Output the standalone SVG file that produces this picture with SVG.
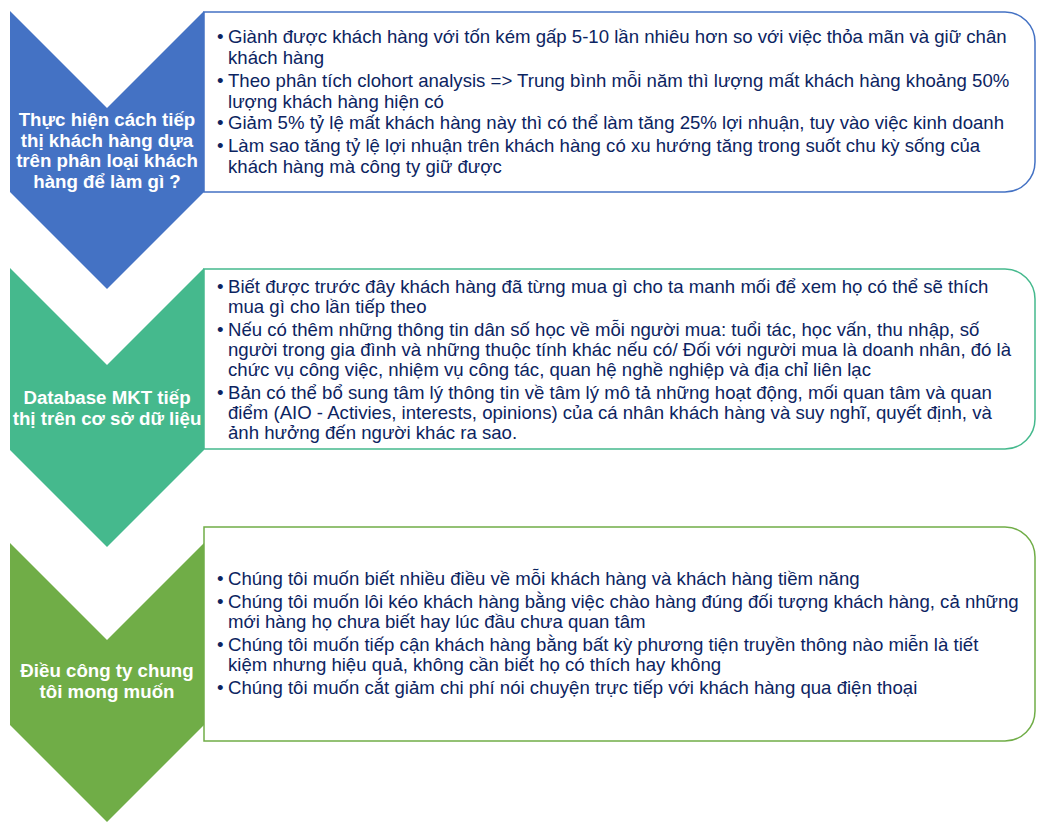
<svg xmlns="http://www.w3.org/2000/svg" width="1044" height="831" viewBox="0 0 1044 831">
<style>
.t{font-family:"Liberation Sans",Arial,sans-serif;font-size:18.6px;fill:#0C2461}
.h{font-family:"Liberation Sans",Arial,sans-serif;font-size:18.7px;font-weight:bold;fill:#FFFFFF;text-anchor:middle}
.box{fill:#FFFFFF;stroke-width:1.5}
</style>
<rect width="1044" height="831" fill="#FFFFFF"/>
<g id="connectors"></g>
<g id="box1">
<path class="box" stroke="#4472C4" d="M204,12 H1005 A30,30 0 0 1 1035,42 V162 A30,30 0 0 1 1005,192 H204 Z"/>
<text class="t"><tspan x="217" y="43">•</tspan><tspan x="228" y="43">Giành được khách hàng với tốn kém gấp 5-10 lần nhiêu hơn so với việc thỏa mãn và giữ chân</tspan><tspan x="228" y="63.5">khách hàng</tspan></text>
<text class="t"><tspan x="217" y="87">•</tspan><tspan x="228" y="87">Theo phân tích clohort analysis =&gt; Trung bình mỗi năm thì lượng mất khách hàng khoảng 50%</tspan><tspan x="228" y="107.5">lượng khách hàng hiện có</tspan></text>
<text class="t"><tspan x="217" y="129">•</tspan><tspan x="228" y="129">Giảm 5% tỷ lệ mất khách hàng này thì có thể làm tăng 25% lợi nhuận, tuy vào việc kinh doanh</tspan></text>
<text class="t"><tspan x="217" y="152">•</tspan><tspan x="228" y="152">Làm sao tăng tỷ lệ lợi nhuận trên khách hàng có xu hướng tăng trong suốt chu kỳ sống của</tspan><tspan x="228" y="172.5">khách hàng mà công ty giữ được</tspan></text>
</g>
<g id="chevron1">
<polygon fill="#4472C4" points="10,11 107,108 204,11 204,192 107,289 10,192"/>
<text class="h"><tspan x="107" y="126">Thực hiện cách tiếp</tspan><tspan x="107" y="146.5">thị khách hàng dựa</tspan><tspan x="107" y="167">trên phân loại khách</tspan><tspan x="107" y="187.5">hàng để làm gì ?</tspan></text>
</g>
<g id="box2">
<path class="box" stroke="#45B98D" d="M204,269 H1005 A30,30 0 0 1 1035,299 V419 A30,30 0 0 1 1005,449 H204 Z"/>
<text class="t"><tspan x="217" y="293">•</tspan><tspan x="228" y="293">Biết được trước đây khách hàng đã từng mua gì cho ta manh mối để xem họ có thể sẽ thích</tspan><tspan x="228" y="313">mua gì cho lần tiếp theo</tspan></text>
<text class="t"><tspan x="217" y="336">•</tspan><tspan x="228" y="336">Nếu có thêm những thông tin dân số học về mỗi người mua: tuổi tác, học vấn, thu nhập, số</tspan><tspan x="228" y="356">người trong gia đình và những thuộc tính khác nếu có/ Đối với người mua là doanh nhân, đó là</tspan><tspan x="228" y="376">chức vụ công việc, nhiệm vụ công tác, quan hệ nghề nghiệp và địa chỉ liên lạc</tspan></text>
<text class="t"><tspan x="217" y="399">•</tspan><tspan x="228" y="399">Bản có thể bổ sung tâm lý thông tin về tâm lý mô tả những hoạt động, mối quan tâm và quan</tspan><tspan x="228" y="419">điểm (AIO - Activies, interests, opinions) của cá nhân khách hàng và suy nghĩ, quyết định, và</tspan><tspan x="228" y="439">ảnh hưởng đến người khác ra sao.</tspan></text>
</g>
<g id="chevron2">
<polygon fill="#45B98D" points="10,268 107,365 204,268 204,450 107,547 10,450"/>
<text class="h"><tspan x="107" y="404">Database MKT tiếp</tspan><tspan x="107" y="424.5">thị trên cơ sở dữ liệu</tspan></text>
</g>
<g id="box3">
<path class="box" stroke="#70AD47" d="M204,527 H1005 A30,30 0 0 1 1035,557 V711 A30,30 0 0 1 1005,741 H204 Z"/>
<text class="t"><tspan x="217" y="585">•</tspan><tspan x="228" y="585">Chúng tôi muốn biết nhiều điều về mỗi khách hàng và khách hàng tiềm năng</tspan></text>
<text class="t"><tspan x="217" y="608">•</tspan><tspan x="228" y="608">Chúng tôi muốn lôi kéo khách hàng bằng việc chào hàng đúng đối tượng khách hàng, cả những</tspan><tspan x="228" y="628">mới hàng họ chưa biết hay lúc đầu chưa quan tâm</tspan></text>
<text class="t"><tspan x="217" y="651">•</tspan><tspan x="228" y="651">Chúng tôi muốn tiếp cận khách hàng bằng bất kỳ phương tiện truyền thông nào miễn là tiết</tspan><tspan x="228" y="671">kiệm nhưng hiệu quả, không cần biết họ có thích hay không</tspan></text>
<text class="t"><tspan x="217" y="694">•</tspan><tspan x="228" y="694">Chúng tôi muốn cắt giảm chi phí nói chuyện trực tiếp với khách hàng qua điện thoại</tspan></text>
</g>
<g id="chevron3">
<polygon fill="#70AD47" points="10,543 107,640 204,543 204,725 107,822 10,725"/>
<text class="h"><tspan x="107" y="677">Điều công ty chung</tspan><tspan x="107" y="697.5">tôi mong muốn</tspan></text>
</g>
</svg>
